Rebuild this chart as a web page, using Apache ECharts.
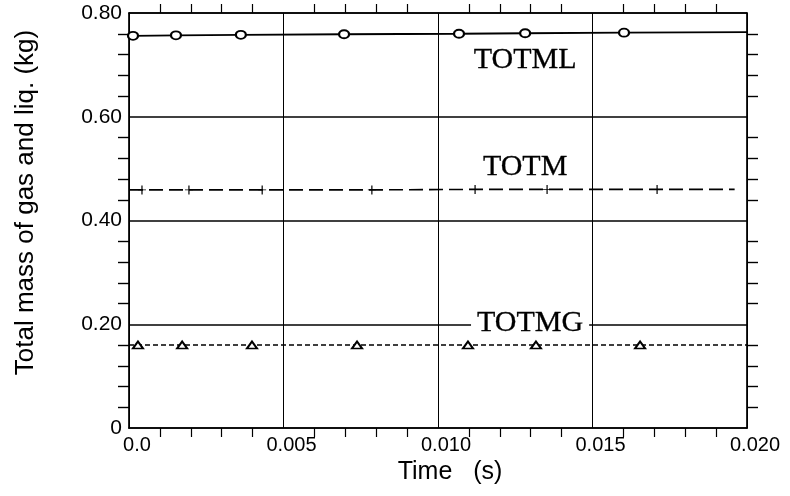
<!DOCTYPE html>
<html>
<head>
<meta charset="utf-8">
<script src="https://cdn.jsdelivr.net/npm/echarts@6/dist/echarts.min.js"></script>
<style>
  html, body { margin: 0; padding: 0; background: #fff; }
  #chart { width: 790px; height: 496px; }
</style>
</head>
<body>
<div id="chart"></div>
<script>
// Time samples (s) and total masses (kg); first and last entries are line ends without a symbol
const timeTOTML  = [0, 0.00013, 0.00152, 0.00362, 0.00696, 0.01068, 0.01282, 0.01602, 0.0200];
const massTOTML  = [0.756, 0.756, 0.757, 0.758, 0.759, 0.760, 0.761, 0.762, 0.763];

const timeTOTM   = [0, 0.00042, 0.00194, 0.00431, 0.00786, 0.01120, 0.01353, 0.01709, 0.0196];
const massTOTM   = [0.459, 0.459, 0.459, 0.459, 0.459, 0.460, 0.460, 0.460, 0.460];

const timeTOTMG  = [0, 0.00029, 0.00172, 0.00398, 0.00738, 0.01097, 0.01317, 0.01654, 0.0200];
const massTOTMG  = [0.160, 0.160, 0.160, 0.160, 0.160, 0.160, 0.160, 0.160, 0.160];

// Curve names written inside the plot, and where they sit (time, mass)
const curveNames  = ['TOTML', 'TOTM', 'TOTMG'];
const curveTimes  = [0.01282, 0.01282, 0.01298];
const curveMasses = [0.709, 0.503, 0.2024];

// Axis ranges and tick spacing
const timeMin = 0, timeMax = 0.020, timeStep = 0.005;
const massMin = 0, massMax = 0.80, massStep = 0.20;

const plusPath = 'path://M4.4,0h1.2v10h-1.2z M1,4.5h8v1h-8z';

function lineData(times, masses) {
  return times.map((t, i) => {
    const item = { value: [t, masses[i]] };
    if (i === 0 || i === times.length - 1) item.symbol = 'none';
    return item;
  });
}

const chart = echarts.init(document.getElementById('chart'), null, { renderer: 'canvas' });

const sans = 'Liberation Sans, Arial, Helvetica, sans-serif';
const serif = 'Liberation Serif, Times New Roman, serif';

const blackLine = { color: '#000', width: 1.7 };

chart.setOption({
  backgroundColor: '#fff',
  animation: false,
  grid: { left: 129, right: 43, top: 13, bottom: 68, containLabel: false },
  xAxis: [
    {
      type: 'value', min: timeMin, max: timeMax, interval: timeStep,
      name: 'Time   (s)', nameLocation: 'middle', nameGap: 27,
      nameTextStyle: { fontFamily: sans, fontSize: 25, color: '#000', padding: [0, 0, 0, 24] },
      axisLine: { show: true, onZero: false, lineStyle: blackLine },
      axisTick: { show: false },
      minorTick: { show: true, splitNumber: 5, length: 9, lineStyle: { color: '#000', width: 1.2 } },
      axisLabel: {
        fontFamily: sans, fontSize: 20, color: '#000', margin: 7, padding: [0, 0, 0, 16],
        formatter: v => (v === 0 ? '0.0' : v.toFixed(3))
      },
      splitLine: { show: true, lineStyle: { color: '#000', width: 1 } },
      minorSplitLine: { show: false }
    },
    {
      type: 'value', position: 'top', min: timeMin, max: timeMax, interval: timeStep,
      axisLine: { show: true, onZero: false, lineStyle: blackLine },
      axisTick: { show: false },
      minorTick: { show: true, splitNumber: 5, length: 9, lineStyle: { color: '#000', width: 1.2 } },
      axisLabel: { show: false },
      splitLine: { show: false }
    }
  ],
  yAxis: [
    {
      type: 'value', min: massMin, max: massMax, interval: massStep,
      name: 'Total mass of gas and liq. (kg)', nameLocation: 'middle', nameGap: 90,
      nameTextStyle: { fontFamily: sans, fontSize: 26, color: '#000', padding: [0, 0, 0, 36] },
      axisLine: { show: true, onZero: false, lineStyle: blackLine },
      axisTick: { show: false },
      minorTick: { show: true, splitNumber: 5, length: 11, lineStyle: { color: '#000', width: 1.4 } },
      axisLabel: {
        fontFamily: sans, fontSize: 21, color: '#000', margin: 7,
        formatter: v => (v === 0 ? '0' : v.toFixed(2))
      },
      splitLine: { show: true, lineStyle: { color: '#000', width: 1.5 } }
    },
    {
      type: 'value', position: 'right', min: massMin, max: massMax, interval: massStep,
      axisLine: { show: true, onZero: false, lineStyle: blackLine },
      axisTick: { show: false },
      minorTick: { show: true, splitNumber: 5, length: 11, lineStyle: { color: '#000', width: 1.4 } },
      axisLabel: { show: false },
      splitLine: { show: false }
    }
  ],
  series: [
    {
      name: 'TOTML', type: 'line', xAxisIndex: 0, yAxisIndex: 0,
      data: lineData(timeTOTML, massTOTML),
      symbol: 'emptyCircle', symbolSize: [10, 8], showAllSymbol: true,
      lineStyle: { color: '#000', width: 1.8, type: 'solid' },
      itemStyle: { color: '#000', borderColor: '#000', borderWidth: 1.3 },
      z: 3
    },
    {
      name: 'TOTM', type: 'line', xAxisIndex: 0, yAxisIndex: 0,
      data: lineData(timeTOTM, massTOTM),
      symbol: plusPath, symbolSize: [8, 9], showAllSymbol: true,
      lineStyle: { color: '#000', width: 1.6, type: [14, 6] },
      itemStyle: { color: '#000' },
      z: 3
    },
    {
      name: 'TOTMG', type: 'line', xAxisIndex: 0, yAxisIndex: 0,
      data: lineData(timeTOTMG, massTOTMG),
      symbol: 'emptyTriangle', symbolSize: [10, 7], showAllSymbol: true,
      lineStyle: { color: '#000', width: 1.4, type: [5, 3] },
      itemStyle: { color: '#000', borderColor: '#000', borderWidth: 1.2 },
      z: 3
    },
    {
      name: 'curve names', type: 'scatter', xAxisIndex: 0, yAxisIndex: 0,
      symbolSize: 0, silent: true, z: 4,
      data: curveNames.map((n, i) => ({ name: n, value: [curveTimes[i], curveMasses[i]] })),
      label: {
        show: true, position: 'inside', formatter: p => p.name,
        fontFamily: serif, fontSize: 30, color: '#000', opacity: 1,
        textBorderColor: '#000', textBorderWidth: 0.3,
        backgroundColor: '#fff', padding: [0, 6, 0, 6]
      }
    }
  ]
});
</script>
</body>
</html>
